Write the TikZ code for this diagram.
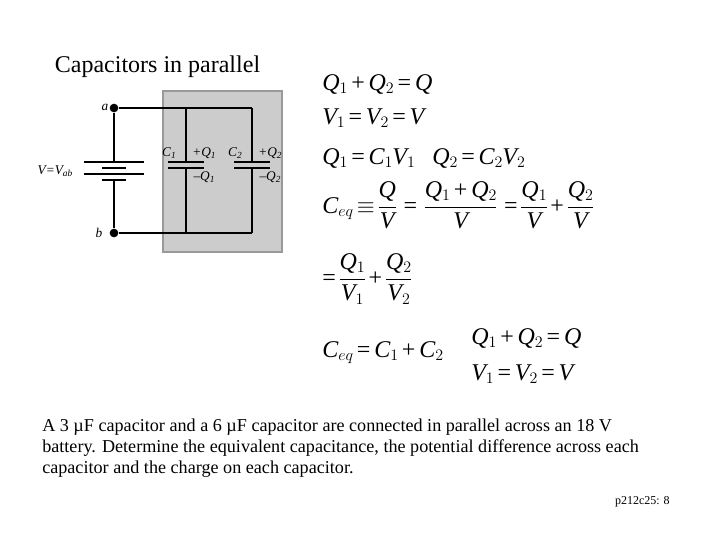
\documentclass[tikz,border=0pt]{standalone}
\usepackage{amsmath}
\usepackage{fontspec}
\setmainfont{Liberation Serif}
\usepackage{tikz}
\definecolor{boxfill}{HTML}{CCCCCC}
\definecolor{boxline}{HTML}{999999}
\newcommand{\mQ}{\mathit{Q}}
\newcommand{\mV}{\mathit{V}}
\newcommand{\mC}{\mathit{C}}
\newcommand{\pl}{\mathbin{\mbox{+}}}
\newcommand{\eq}{\mathrel{\mbox{=}}}
\medmuskip=3mu
\thickmuskip=3mu
\scriptspace=0pt
\nulldelimiterspace=0pt
\tikzset{
  wire/.style={line width=1.5pt},
  plate/.style={line width=1.5pt},
  eqn/.style={anchor=base west,inner sep=0,font=\fontsize{18}{22}\selectfont},
  lbl/.style={inner sep=0,font=\fontsize{10}{12}\selectfont\itshape},
  terminal/.style={circle,fill=black,inner sep=0,minimum size=6.5pt},
}
\begin{document}
\begin{tikzpicture}[x=0.75pt,y=-0.75pt]
\useasboundingbox (0,0) rectangle (720,540);

\node[inner sep=0,font=\fontsize{18}{22}\selectfont] (title) at (157.5,67) {Capacitors in parallel};
\draw[fill=boxfill,draw=boxline,line width=1.5pt] (163,91) rectangle (282,252);

\node[terminal] (a) at (114,108) {};
\node[terminal] (b) at (114,233) {};
\coordinate (topc1) at (186,108);
\coordinate (topc2) at (252,108);
\coordinate (botc1) at (186,233);
\coordinate (botc2) at (252,233);

% battery
\coordinate (batL1) at (84,162);
\coordinate (batR1) at (144,162);
\coordinate (batL2) at (102,168);
\coordinate (batR2) at (126,168);
\coordinate (batL3) at (84,174);
\coordinate (batR3) at (144,174);
\coordinate (batL4) at (102,180);
\coordinate (batR4) at (126,180);
\coordinate (batT) at (114,162);
\coordinate (batB) at (114,180);
\draw[plate] (batL1) -- (batR1);
\draw[plate] (batL2) -- (batR2);
\draw[plate] (batL3) -- (batR3);
\draw[plate] (batL4) -- (batR4);
\draw[wire] (a) -- (batT);
\draw[wire] (batB) -- (b);

% wires and capacitors
\draw[wire] (a) -- (topc2);
\draw[wire] (b) -- (botc2);
\foreach \name/\x in {c1/186,c2/252}{
  \coordinate (\name L1) at (\x-18,162);
  \coordinate (\name R1) at (\x+18,162);
  \coordinate (\name L2) at (\x-18,168);
  \coordinate (\name R2) at (\x+18,168);
  \coordinate (\name T) at (\x,162);
  \coordinate (\name B) at (\x,168);
  \draw[plate] (\name L1) -- (\name R1);
  \draw[plate] (\name L2) -- (\name R2);
}
\draw[wire] (topc1) -- (c1T);
\draw[wire] (c1B) -- (botc1);
\draw[wire] (topc2) -- (c2T);
\draw[wire] (c2B) -- (botc2);

\node[lbl] (la) at (105,107) {a};
\node[lbl] (lb) at (99,233) {b};
\node[lbl] (lv) at (55,171) {V=V\textsubscript{ab}};
\node[lbl] (lc1) at (169,153) {C\textsubscript{1}};
\node[lbl] (lp1) at (204,153) {+Q\textsubscript{1}};
\node[lbl] (lm1) at (204,177) {--Q\textsubscript{1}};
\node[lbl] (lc2) at (235,153) {C\textsubscript{2}};
\node[lbl] (lp2) at (270,153) {+Q\textsubscript{2}};
\node[lbl] (lm2) at (270,177) {--Q\textsubscript{2}};

% equations
\node[eqn] (eq1) at (322,90) {$\mQ_1\pl\mQ_2\eq\mQ$};
\node[eqn] (eq2) at (322,124) {$\mV_1\eq\mV_2\eq\mV$};
\node[eqn] (eq3) at (322,164) {$\mQ_1\eq\mC_1\mV_1$};
\node[eqn] (eq3b) at (432,164) {$\mQ_2\eq\mC_2\mV_2$};
\node[eqn] (eq4) at (322,213) {$\mC_{eq}\equiv\dfrac{\mQ}{\mV}\,\eq\,\dfrac{\mQ_1\pl\mQ_2}{\mV}\,\eq\dfrac{\mQ_1}{\mV}\pl\dfrac{\mQ_2}{\mV}$};
\node[eqn] (eq5) at (322,285) {$\eq\dfrac{\mQ_1}{\mV_1}\pl\dfrac{\mQ_2}{\mV_2}$};
\node[eqn] (eq6) at (322,357) {$\mC_{eq}\eq\mC_1\pl\mC_2$};
\node[eqn] (eq7) at (471,344) {$\mQ_1\pl\mQ_2\eq\mQ$};
\node[eqn] (eq8) at (471,380) {$\mV_1\eq\mV_2\eq\mV$};

\node[anchor=base west,inner sep=0,align=left,font=\fontsize{13.6}{15.75}\selectfont] (problem) at (42,473) {A 3 µF capacitor and a 6 µF capacitor are connected in parallel across an 18 V\\battery.  Determine the equivalent capacitance, the potential difference across each\\capacitor and the charge on each capacitor.};
\node[anchor=base east,inner sep=0,font=\fontsize{9}{11}\selectfont] (page) at (670,504) {p212c25: 8};
\end{tikzpicture}
\end{document}
